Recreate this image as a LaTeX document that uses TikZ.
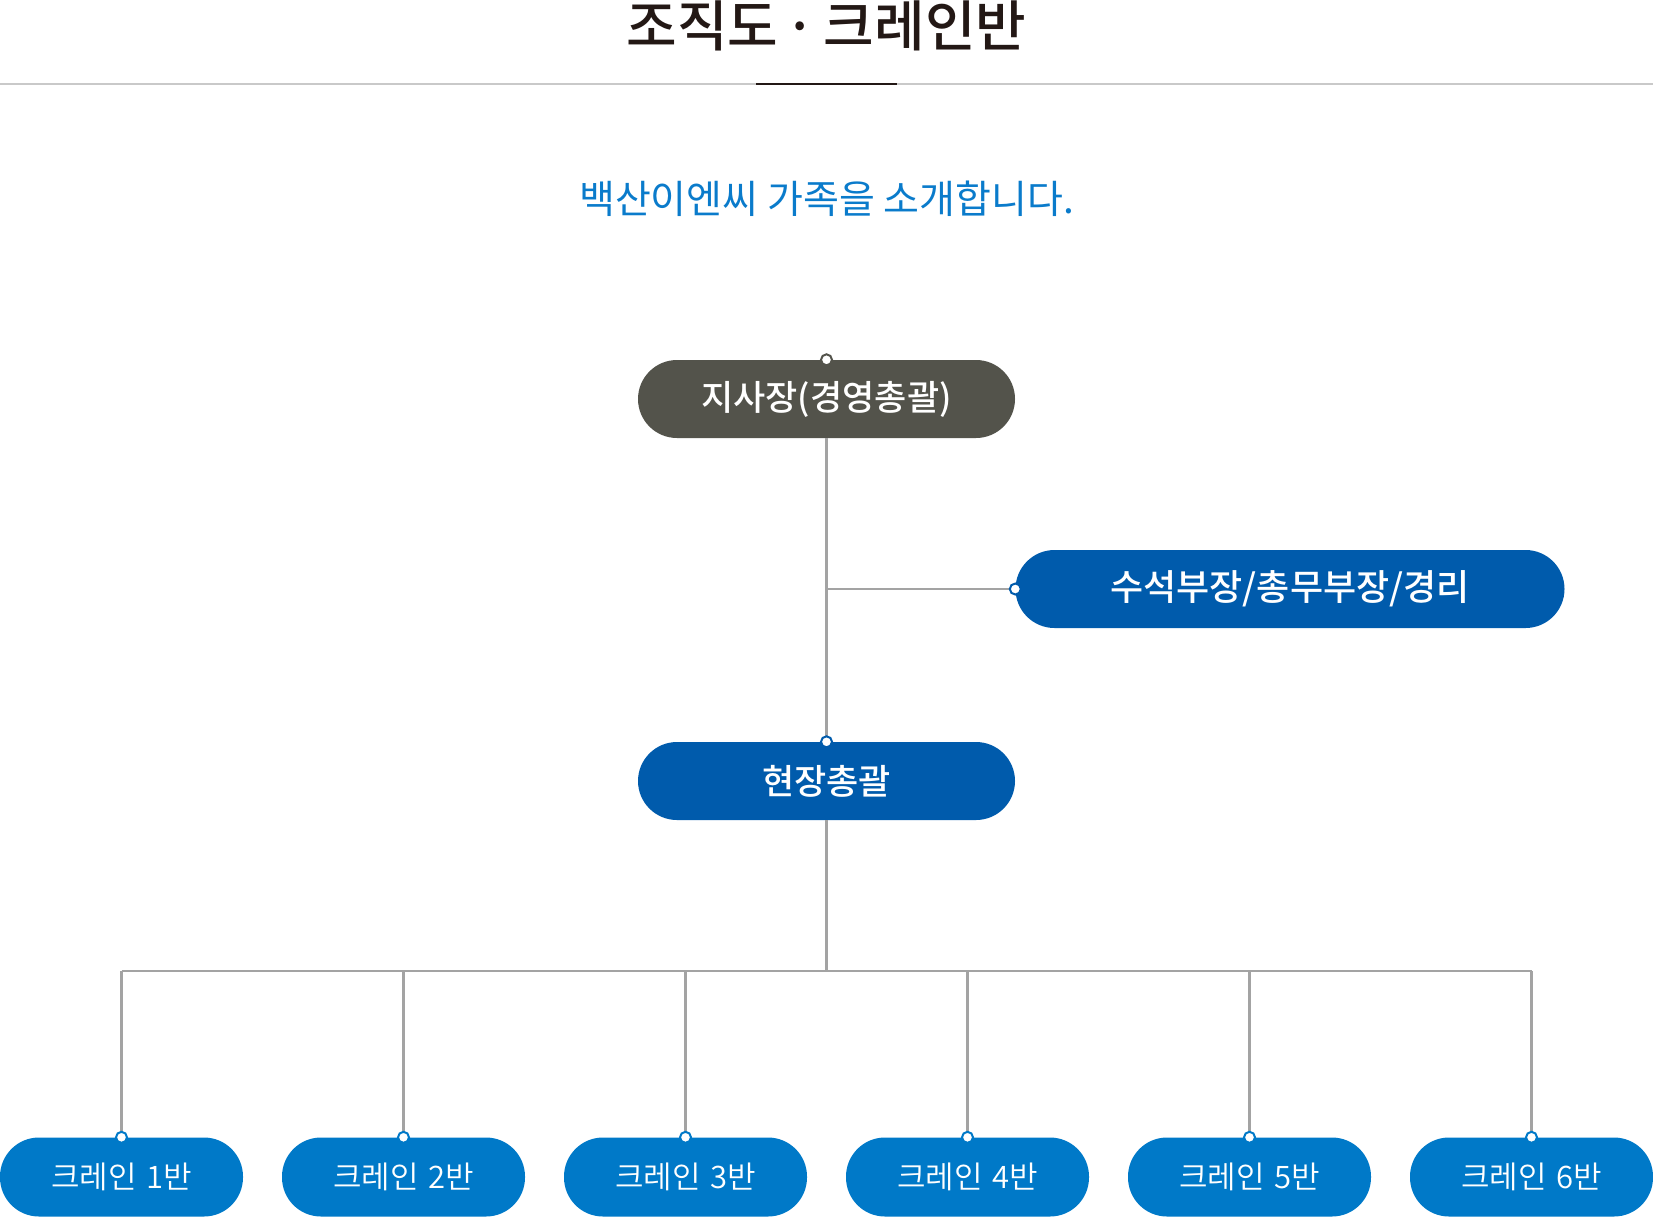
\documentclass[tikz,border=0pt]{standalone}
\usepackage{fontspec}
\newfontfamily\kr{Noto Sans CJK KR}
\IfFontExistsTF{Noto Sans CJK KR Medium}{\newfontfamily\krmed{Noto Sans CJK KR Medium}}{\newfontfamily\krmed{Noto Sans CJK KR}[FakeBold=1.2]}
\IfFontExistsTF{Noto Sans CJK KR DemiLight}{\newfontfamily\krlight{Noto Sans CJK KR DemiLight}}{\newfontfamily\krlight{Noto Sans CJK KR}}
\definecolor{titlecol}{HTML}{231815}
\definecolor{topgray}{HTML}{53534B}
\definecolor{navy}{HTML}{005BAC}
\definecolor{crane}{HTML}{0079C8}
\definecolor{subblue}{HTML}{0A7BCB}
\definecolor{linegray}{HTML}{A3A3A3}
\definecolor{rulegray}{HTML}{C9C9C9}
\tikzset{
  pill/.style={rectangle, rounded corners=39pt, inner sep=0pt, text=white,
    minimum height=78pt, font=\krmed\fontsize{35}{35}\selectfont},
  cranebox/.style={rectangle, rounded corners=39pt, inner sep=0pt, text=white,
    fill=crane, minimum width=243pt, minimum height=79pt,
    font=\krlight\fontsize{31}{31}\selectfont},
  conn/.style={draw=linegray, line width=2.6pt},
  dot/.style={circle, fill=white, draw=#1, line width=2pt, minimum size=11pt, inner sep=0pt},
}
\begin{document}
\begin{tikzpicture}[x=1pt,y=-1pt]
\useasboundingbox (0,0) rectangle (1653,1216);
% title and rules
\node[text=titlecol, font=\krmed\fontsize{55}{55}\selectfont, inner sep=0pt] (title) at (826.5,26) {조직도\hspace{6pt}·\hspace{8pt}크레인반};
\draw[rulegray, line width=1.5pt] (0,84) -- (1653,84);
\draw[titlecol, line width=2pt] (756,84) -- (897,84);
\node[text=subblue, font=\kr\fontsize{39}{39}\selectfont, inner sep=0pt] (sub) at (826.5,199) {백산이엔씨 가족을 소개합니다.};
% nodes
\node[pill, fill=topgray, minimum width=377pt] (top) at (826.5,399) {지사장(경영총괄)};
\node[pill, fill=navy, minimum width=549pt, font=\krmed\fontsize{36}{36}\selectfont] (side) at (1290,589) {수석부장/총무부장/경리};
\node[pill, fill=navy, minimum width=377pt] (mid) at (826.5,781) {현장총괄};
\foreach \i/\x in {1/121.5,2/403.5,3/685.5,4/967.5,5/1249.5,6/1531.5}{
  \node[cranebox] (c\i) at (\x,1177) {크레인\hspace{9pt}\i 반};
}
\coordinate (bus) at (826.5,971);
% connectors
\draw[conn] (top.south) -- (mid.north);
\draw[conn] (top.south |- side.west) -- (side.west);
\draw[conn] (mid.south) -- (bus);
\draw[conn] (c1.north |- bus) -- (c6.north |- bus);
\foreach \i in {1,...,6}{
  \draw[conn] (c\i.north |- bus) -- (c\i.north);
}
% dots
\node[dot=topgray] at (top.north) {};
\node[dot=navy] at (side.west) {};
\node[dot=navy] at (mid.north) {};
\foreach \i in {1,...,6}{
  \node[dot=crane] at (c\i.north) {};
}
\end{tikzpicture}
\end{document}
